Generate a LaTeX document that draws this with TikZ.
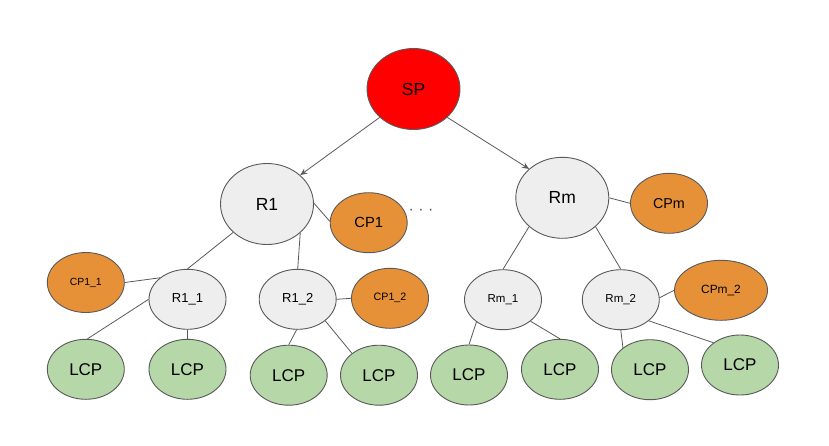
\documentclass[tikz,border=0pt]{standalone}
\usepackage{fontspec}
\setmainfont{Liberation Sans}
\usetikzlibrary{shapes.geometric,arrows.meta}
\definecolor{spred}{HTML}{FF0000}
\definecolor{rgray}{HTML}{EEEEEE}
\definecolor{cporange}{HTML}{E69138}
\definecolor{lcpgreen}{HTML}{B6D7A8}
\definecolor{edgegray}{HTML}{595959}
\tikzset{
  nd/.style={ellipse, draw=edgegray, line width=0.9pt, inner sep=0pt},
  big/.style={nd, minimum width=93pt, minimum height=81pt, font=\fontsize{17.5}{20}\selectfont},
  small/.style={nd, minimum width=77pt, minimum height=60pt},
  rnode/.style={fill=rgray},
  cpnode/.style={fill=cporange},
  lcpnode/.style={small, fill=lcpgreen, font=\fontsize{17}{20}\selectfont},
  conn/.style={draw=edgegray, line width=0.8pt},
  arr/.style={conn, -{Stealth[length=7pt,width=6pt]}}
}
\begin{document}
\begin{tikzpicture}[x=1pt,y=-1pt]
\useasboundingbox (0,0) rectangle (829,445);
% top
\node[big, fill=spred] (SP) at (413.5,89) {SP};
\node[big, rnode] (R1) at (267,204) {R1};
\node[big, rnode] (Rm) at (562.3,197.8) {Rm};
\node[small, cpnode, font=\fontsize{14.7}{17}\selectfont] (CP1) at (368.7,222.7) {CP1};
\node[small, cpnode, font=\fontsize{14.3}{17}\selectfont] (CPm) at (669,203.3) {CPm};
\node[font=\fontsize{16}{18}\selectfont, text=edgegray] (dots) at (421,212) {· · ·};
% second level
\node[small, rnode, font=\fontsize{13}{15}\selectfont] (R11) at (187.5,299.3) {R1\_1};
\node[small, rnode, font=\fontsize{13}{15}\selectfont] (R12) at (297.7,299.3) {R1\_2};
\node[small, rnode, font=\fontsize{11.5}{14}\selectfont] (Rm1) at (503,299.7) {Rm\_1};
\node[small, rnode, font=\fontsize{11.5}{14}\selectfont] (Rm2) at (620.8,299.7) {Rm\_2};
\node[small, cpnode, font=\fontsize{10.4}{12}\selectfont] (CP11) at (85.8,282.5) {CP1\_1};
\node[small, cpnode, font=\fontsize{10.7}{13}\selectfont] (CP12) at (390,298.3) {CP1\_2};
\node[small, cpnode, minimum width=93pt, font=\fontsize{11.9}{14}\selectfont] (CPm2) at (721,290.3) {CPm\_2};
% leaves
\node[lcpnode] (L1) at (85.8,369.3) {LCP};
\node[lcpnode] (L2) at (187.5,369.3) {LCP};
\node[lcpnode] (L3) at (288.7,375.2) {LCP};
\node[lcpnode] (L4) at (379,375.2) {LCP};
\node[lcpnode] (L5) at (469,375) {LCP};
\node[lcpnode] (L6) at (560,369.3) {LCP};
\node[lcpnode] (L7) at (650,369.7) {LCP};
\node[lcpnode] (L8) at (740,365) {LCP};
% arrows
\draw[arr] (SP.220.4) -- (R1.41.5);
\draw[arr] (SP.-40.8) -- (Rm.139);
% connectors
\draw[conn] (R1.1) -- (CP1.178.5);
\draw[conn] (R1.220) -- (R11.90);
\draw[conn] (R1.-41.6) -- (R12.90);
\draw[conn] (CP11.0) -- (R11.142.6);
\draw[conn] (R11.180) -- (L1.87);
\draw[conn] (R11.270) -- (L2.90);
\draw[conn] (R12.0) -- (CP12.180);
\draw[conn] (R12.268) -- (L3.90);
\draw[conn] (R12.-38) -- (L4.141);
\draw[conn] (Rm.0) -- (CPm.180);
\draw[conn] (Rm.221.3) -- (Rm1.90);
\draw[conn] (Rm.-41.6) -- (Rm2.90);
\draw[conn] (Rm2.3) -- (CPm2.180);
\draw[conn] (Rm2.270) -- (L7.141);
\draw[conn] (Rm2.-37) -- (L8.140);
\draw[conn] (Rm1.220) -- (L5.90);
\draw[conn] (Rm1.-38) -- (L6.90);
\end{tikzpicture}
\end{document}
